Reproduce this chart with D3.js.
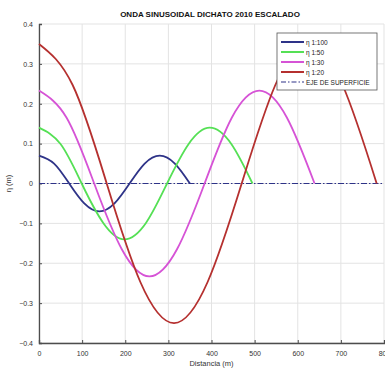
<!DOCTYPE html>
<html>
<head>
<meta charset="utf-8">
<script src="https://cdn.jsdelivr.net/npm/d3@7"></script>
<style>
  body { margin: 0; background: #fff; }
  text { font-family: "Liberation Sans", Arial, sans-serif; }
</style>
</head>
<body>
<div id="chart"></div>
<script>
// values (m): distance and surface elevation
var x100 = [0, 35, 70, 105, 140, 175, 210, 245, 280, 315, 350];
var eta100 = [0.07, 0.05, 0, -0.05, -0.07, -0.05, 0, 0.05, 0.07, 0.05, 0];

var x50 = [0, 50, 99, 149, 198, 248, 297, 347, 396, 446, 495];
var eta50 = [0.14, 0.099, 0, -0.099, -0.14, -0.099, 0, 0.099, 0.14, 0.099, 0];

var x30 = [0, 64, 128, 192, 256, 320, 384, 447, 511, 575, 639];
var eta30 = [0.233, 0.165, 0, -0.165, -0.233, -0.165, 0, 0.165, 0.233, 0.165, 0];

var x20 = [0, 78, 157, 235, 313, 391, 470, 548, 626, 704, 783];
var eta20 = [0.35, 0.247, 0, -0.247, -0.35, -0.247, 0, 0.247, 0.35, 0.247, 0];

var axisX = [0, 800];
var axisEta = [0, 0];

var xTicks = [0, 100, 200, 300, 400, 500, 600, 700, 800];
var yTicks = [-0.4, -0.3, -0.2, -0.1, 0, 0.1, 0.2, 0.3, 0.4];
var labels = ["\u03b7 1:100", "\u03b7 1:50", "\u03b7 1:30", "\u03b7 1:20", "EJE DE SUPERFICIE"];

var width = 385, height = 370;
var margin = {top: 24, right: 1, bottom: 27, left: 39};

var svg = d3.select('#chart').append('svg')
    .attr('width', width)
    .attr('height', height);

var x = d3.scaleLinear().domain([0, 800]).range([margin.left, width - margin.right]);
var y = d3.scaleLinear().domain([-0.4, 0.4]).range([height - margin.bottom, margin.top]);

// grid
var grid = svg.append('g');
grid.selectAll('line.gx').data(xTicks).enter().append('line')
    .attr('x1', function (d) { return x(d); })
    .attr('x2', function (d) { return x(d); })
    .attr('y1', y(-0.4)).attr('y2', y(0.4))
    .attr('stroke', '#e3e3e3').attr('stroke-width', 1);
grid.selectAll('line.gy').data(yTicks).enter().append('line')
    .attr('y1', function (d) { return y(d); })
    .attr('y2', function (d) { return y(d); })
    .attr('x1', x(0)).attr('x2', x(800))
    .attr('stroke', '#e3e3e3').attr('stroke-width', 1);

// axes
var xAxis = svg.append('g')
    .attr('transform', 'translate(0,' + y(-0.4) + ')')
    .call(d3.axisBottom(x).tickValues(xTicks).tickSize(-3).tickPadding(8).tickFormat(d3.format('d')));
var yAxis = svg.append('g')
    .attr('transform', 'translate(' + x(0) + ',0)')
    .call(d3.axisLeft(y).tickValues(yTicks).tickSize(-3).tickPadding(6).tickFormat(function (d) { return d3.format('')(+d.toFixed(1)); }));

[xAxis, yAxis].forEach(function (a) {
    a.select('.domain').attr('stroke', '#4d4d4d').attr('stroke-width', 1.3);
    a.selectAll('.tick line').attr('stroke', '#4d4d4d');
    a.selectAll('.tick text').attr('fill', '#333').style('font-size', '7px');
});

var line = d3.line()
    .x(function (d) { return x(d[0]); })
    .y(function (d) { return y(d[1]); })
    .curve(d3.curveNatural);

var series = [
    {xs: x100, ys: eta100, color: '#2e3388'},
    {xs: x50, ys: eta50, color: '#55e055'},
    {xs: x30, ys: eta30, color: '#d653d6'},
    {xs: x20, ys: eta20, color: '#b5302f'}
];

// surface axis (dash-dot)
svg.append('path')
    .datum(d3.zip(axisX, axisEta))
    .attr('d', d3.line().x(function (d) { return x(d[0]); }).y(function (d) { return y(d[1]); }))
    .attr('fill', 'none')
    .attr('stroke', '#2e3388')
    .attr('stroke-width', 1.2)
    .attr('stroke-dasharray', '6,2,1.5,2');

series.forEach(function (s) {
    svg.append('path')
        .datum(d3.zip(s.xs, s.ys))
        .attr('d', line)
        .attr('fill', 'none')
        .attr('stroke', s.color)
        .attr('stroke-width', 1.8);
});

// title and axis labels
svg.append('text')
    .attr('x', 210).attr('y', 17)
    .attr('text-anchor', 'middle')
    .style('font-size', '8px').style('font-weight', 'bold')
    .attr('fill', '#111')
    .text('ONDA SINUSOIDAL DICHATO 2010 ESCALADO');

svg.append('text')
    .attr('x', x(400)).attr('y', 366)
    .attr('text-anchor', 'middle')
    .style('font-size', '7.5px')
    .attr('fill', '#333')
    .text('Distancia (m)');

svg.append('text')
    .attr('transform', 'translate(11,' + y(0) + ') rotate(-90)')
    .attr('text-anchor', 'middle')
    .style('font-size', '7.5px')
    .attr('fill', '#333')
    .text('\u03b7 (m)');

// legend
var legend = svg.append('g').attr('transform', 'translate(277,33)');
legend.append('rect')
    .attr('width', 100).attr('height', 57)
    .attr('fill', '#fff').attr('stroke', '#555').attr('stroke-width', 0.8);

var legendColors = series.map(function (s) { return s.color; }).concat(['#2e3388']);
var rows = legend.selectAll('g.row').data(labels).enter().append('g')
    .attr('transform', function (d, i) { return 'translate(0,' + (9 + i * 10) + ')'; });
rows.append('line')
    .attr('x1', 4).attr('x2', 27)
    .attr('stroke', function (d, i) { return legendColors[i]; })
    .attr('stroke-width', function (d, i) { return i < 4 ? 2 : 1.2; })
    .attr('stroke-dasharray', function (d, i) { return i < 4 ? null : '5,2,1.5,2'; });
rows.append('text')
    .attr('x', 29).attr('y', 2.5)
    .style('font-size', '6.5px')
    .attr('fill', '#222')
    .text(function (d) { return d; });
</script>
</body>
</html>
